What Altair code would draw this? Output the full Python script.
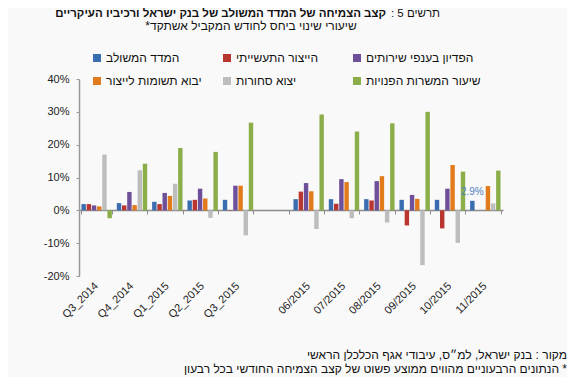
import altair as alt
import pandas as pd

FONT = "Liberation Sans"

categories = ["Q3_2014", "Q4_2014", "Q1_2015", "Q2_2015", "Q3_2015", " ",
              "06/2015", "07/2015", "08/2015", "09/2015", "10/2015", "11/2015"]
series_names = ["המדד המשולב", "הייצור התעשייתי", "הפדיון בענפי שירותים",
                "יבוא תשומות לייצור", "יצוא סחורות", "שיעור המשרות הפנויות"]
series_colors = ["#3a6cb0", "#b83530", "#6e4f9a", "#e27b1c", "#bdbdbd", "#8cae4a"]

composite = [1.9, 2.2, 2.6, 3.0, 3.2, None, 3.4, 3.4, 3.4, 3.2, 3.2, 2.9]
industrial = [1.9, 1.5, 1.9, 3.2, 0.1, None, 5.7, 2.0, 3.0, -4.6, -5.5, None]
services = [1.5, 5.6, 5.3, 6.6, 7.5, None, 8.3, 9.5, 8.9, 4.7, 6.6, None]
imports = [1.2, 1.6, 4.4, 3.6, 7.5, None, 5.8, 8.6, 10.4, 3.5, 13.8, 7.4]
exports = [17.0, 12.2, 8.1, -2.3, -7.6, None, -5.7, -2.4, -3.7, -16.7, -9.9, 2.1]
vacancies = [-2.4, 14.2, 19.0, 17.8, 26.7, None, 29.2, 24.0, 26.5, 30.0, 11.8, 12.1]

y_ticks = [-20, -10, 0, 10, 20, 30, 40]

title_lead = "תרשים 5 :\u200f"
title_main = "קצב הצמיחה של המדד המשולב של בנק ישראל ורכיביו העיקריים"
subtitle_text = "שיעורי שינוי ביחס לחודש המקביל אשתקד*\u200f"
source_text = "מקור : בנק ישראל, למ״ס, עיבודי אגף הכלכלן הראשי"
note_text = "\u200f* הנתונים הרבעוניים מהווים ממוצע פשוט של קצב הצמיחה החודשי בכל רבעון"

all_series = [composite, industrial, services, imports, exports, vacancies]
rows = []
for name, vals in zip(series_names, all_series):
    for cat, v in zip(categories, vals):
        if v is not None:
            rows.append({"category": cat, "series": name, "value": v})
df = pd.DataFrame(rows)

x_scale = alt.Scale(domain=categories, paddingInner=0.14, paddingOuter=0.07)
x_axis = alt.Axis(title=None, domain=False, ticks=False, labelAngle=-45,
                  labelAlign="right", labelBaseline="middle", labelPadding=8,
                  labelFontSize=11, labelColor="#222", labelFont=FONT)
y_scale = alt.Scale(domain=[-20, 40], nice=False)
y_axis = alt.Axis(values=y_ticks, labelExpr="datum.value + '%'", title=None,
                  grid=False, domainColor="#9a9a9a", domainWidth=1.5,
                  tickColor="#9a9a9a", tickSize=3, labelPadding=7,
                  labelOverlap=False,
                  labelFontSize=11, labelColor="#222", labelFont=FONT)
xoff = alt.XOffset("series:N", sort=series_names,
                   scale=alt.Scale(domain=series_names, paddingInner=0.15))

bars = alt.Chart(df).mark_bar().encode(
    x=alt.X("category:N", sort=categories, scale=x_scale, axis=x_axis),
    xOffset=xoff,
    y=alt.Y("value:Q", scale=y_scale, axis=y_axis),
    color=alt.Color("series:N", sort=series_names,
                    scale=alt.Scale(domain=series_names, range=series_colors),
                    legend=alt.Legend(title=None, orient="none", legendX=12, legendY=-27,
                                      columns=3, direction="horizontal", gridAlign="all",
                                      columnPadding=-4, rowPadding=11,
                                      symbolType="square", symbolSize=64,
                                      symbolStrokeWidth=0, labelOffset=3,
                                      labelFontSize=12, labelFont=FONT,
                                      labelColor="#111")),
)

label = alt.Chart(df).transform_filter(
    (alt.datum.series == series_names[0]) & (alt.datum.category == "11/2015")
).transform_calculate(
    lab="format(datum.value, '.1f') + '%'"
).mark_text(dy=-9, fontSize=10, color="#4f81bd", font=FONT).encode(
    x=alt.X("category:N", sort=categories, scale=x_scale, axis=x_axis),
    xOffset=xoff,
    y=alt.Y("value:Q", scale=y_scale, axis=y_axis),
    text="lab:N",
)

zero_axis = alt.Chart(pd.DataFrame({"category": categories})).mark_point(opacity=0).encode(
    x=alt.X("category:N", sort=categories, scale=x_scale,
            axis=alt.Axis(orient="bottom", offset=-66, labels=False, title=None,
                          domain=True, ticks=True, tickBand="extent", tickSize=4,
                          domainColor="#8c8c8c", tickColor="#8c8c8c", domainWidth=1.5)),
)

texts_df = pd.DataFrame({
    "t": [title_lead, title_main, subtitle_text, source_text, note_text],
    "x": [361, 307, 172, 488, 488],
    "y": [-65, -65, -53, 276, 290],
    "w": ["normal", "bold", "normal", "normal", "normal"],
    "s": [11.5, 11.5, 12, 12, 12],
    "a": ["right", "right", "center", "right", "right"],
})

def text_layer(i):
    r = texts_df.iloc[i]
    return alt.Chart(pd.DataFrame({"t": [r["t"]]})).mark_text(
        font=FONT, fontSize=float(r["s"]), fontWeight=r["w"], align=r["a"],
        baseline="middle", color="#111"
    ).encode(text="t:N", x=alt.value(float(r["x"])), y=alt.value(float(r["y"])))

inner = alt.layer(bars, label)

chart = alt.layer(
    inner, zero_axis, *[text_layer(i) for i in range(len(texts_df))]
).resolve_axis(x="independent").properties(
    width=424, height=197,
    padding={"left": 71, "top": 71, "right": 64, "bottom": 101},
    autosize=alt.AutoSizeParams(type="none"),
    background="#f9f9f9",
).configure_view(stroke=None)

chart.save("out.html", embed_options={"renderer": "svg", "actions": False})
